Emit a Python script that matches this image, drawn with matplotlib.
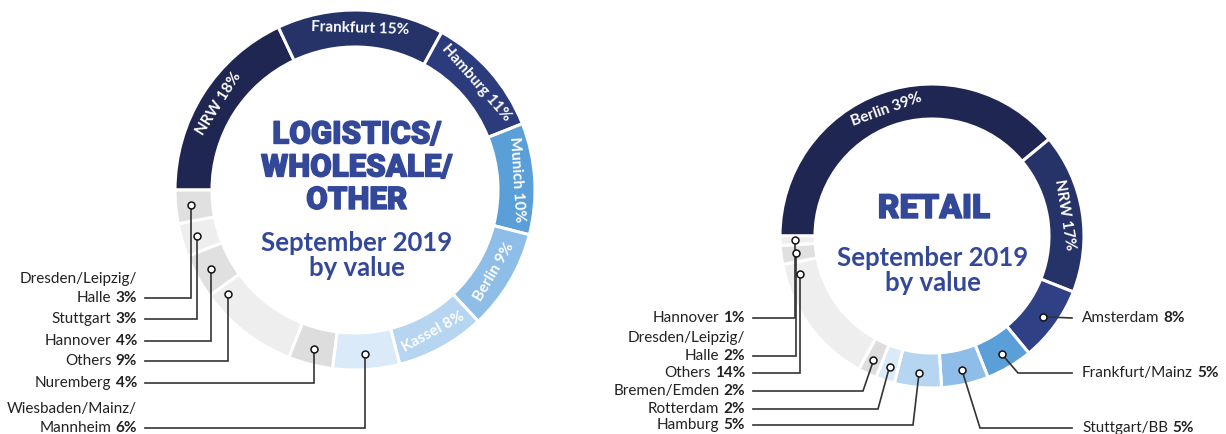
import matplotlib
matplotlib.use("Agg")
import matplotlib.pyplot as plt
import matplotlib.patheffects as pe
import numpy as np
from matplotlib import font_manager as fm

# ---------------- data ----------------
log_names = ["NRW", "Frankfurt", "Hamburg", "Munich", "Berlin", "Kassel",
             "Wiesbaden/Mainz/\nMannheim", "Nuremberg", "Others", "Hannover",
             "Stuttgart", "Dresden/Leipzig/\nHalle"]
log_values = [18, 15, 11, 10, 9, 8, 6, 4, 9, 4, 3, 3]

ret_names = ["Berlin", "NRW", "Amsterdam", "Frankfurt/Mainz", "Stuttgart/BB",
             "Hamburg", "Rotterdam", "Bremen/Emden", "Others",
             "Dresden/Leipzig/\nHalle", "Hannover"]
ret_values = [39, 17, 8, 5, 5, 5, 2, 2, 14, 2, 1]

log_title = ["LOGISTICS/", "WHOLESALE/", "OTHER"]
ret_title = ["RETAIL"]
subtitle = ["September 2019", "by value"]

# ---------------- style ----------------
log_colors = ["#1f2652", "#263368", "#2c3b7b", "#5b9fd9", "#8ebde8", "#b6d5f1",
              "#dbeaf8", "#dcdddc", "#eeeeee", "#dfe0df", "#eeeeee", "#dfe0df"]
ret_colors = ["#1f2652", "#263368", "#2f4084", "#5b9fd9", "#8ebde8", "#b6d5f1",
              "#dbeaf8", "#dcdddc", "#eeeeee", "#dfe0df", "#eeeeee"]
BLUE = "#34489a"
TXT = "#222222"
LINE = "#333333"

names_avail = {f.name for f in fm.fontManager.ttflist}
BASE = "Lato" if "Lato" in names_avail else "DejaVu Sans"
TITLE_FAM = "Roboto" if "Roboto" in names_avail else "DejaVu Sans"
LBL_FS = 11
RING_FS = 11
SUB_FS = 18.5
TITLE_FS = 22.5

W, H = 1226, 434
fig = plt.figure(figsize=(W / 100, H / 100), dpi=100)
ax = fig.add_axes([0, 0, 1, 1])


def Y(y):
    return H - y


def draw_donut(values, colors, center, R, width):
    wedges, _ = ax.pie(values, colors=colors, startangle=180, counterclock=False,
                       radius=R, center=center,
                       wedgeprops=dict(width=width, edgecolor="white", linewidth=2.2))
    return wedges


def angle_at(w, frac=0.5):
    # travel is clockwise from theta2 to theta1
    return w.theta2 - frac * (w.theta2 - w.theta1)


def ring_label(w, text, R, width, frac=0.5):
    a = angle_at(w, frac)
    r = R - width / 2
    cx, cy = w.center
    x = cx + r * np.cos(np.radians(a))
    y = cy + r * np.sin(np.radians(a))
    an = ((a + 180) % 360) - 180
    rot = an - 90 if an > -10 else an + 90
    ax.text(x, y, text, rotation=rot, rotation_mode="anchor", ha="center",
            va="center", color="white", fontsize=RING_FS, family=BASE,
            fontweight="bold")


def marker_pos(w, R, width, frac=0.5):
    a = angle_at(w, frac)
    r = R - width / 2 + 3
    cx, cy = w.center
    return cx + r * np.cos(np.radians(a)), cy + r * np.sin(np.radians(a))


def outer_label(name, pct, xtext, base_y, side, line_gap=19):
    lines = name.split("\n")
    last = lines[-1]
    if side == "left":
        p = ax.text(xtext, base_y, pct, ha="right", va="baseline", fontsize=LBL_FS,
                    family=BASE, fontweight="bold", color=TXT)
        ax.annotate(last, xy=(0, base_y), xycoords=(p, "data"), xytext=(-4, 0),
                    textcoords="offset pixels", ha="right", va="baseline",
                    fontsize=LBL_FS, family=BASE, color=TXT)
        for i, ln in enumerate(reversed(lines[:-1])):
            ax.text(xtext, base_y + (i + 1) * line_gap, ln, ha="right",
                    va="baseline", fontsize=LBL_FS, family=BASE, color=TXT)
    else:
        n = ax.text(xtext, base_y, last, ha="left", va="baseline", fontsize=LBL_FS,
                    family=BASE, color=TXT)
        ax.annotate(pct, xy=(1, base_y), xycoords=(n, "data"), xytext=(4, 0),
                    textcoords="offset pixels", ha="left", va="baseline",
                    fontsize=LBL_FS, family=BASE, fontweight="bold", color=TXT)


def leader(pts):
    xs = [p[0] for p in pts]
    ys = [p[1] for p in pts]
    ax.plot(xs, ys, color=LINE, lw=1.2, solid_joinstyle="miter", zorder=4)
    ax.plot(xs[0], ys[0], "o", ms=5, mfc="white", mec="#111111", mew=1.1, zorder=5)


def title_text(x, y, t, fs):
    ax.text(x, y, t, ha="center", va="baseline", fontsize=fs, family=TITLE_FAM,
            fontweight="black", color=BLUE,
            path_effects=[pe.withStroke(linewidth=1.0, foreground=BLUE)])


# ---------------- left donut ----------------
LC, LR, LW = (355, Y(190)), 180, 37
lw_ = draw_donut(log_values, log_colors, LC, LR, LW)
for i in range(6):
    ring_label(lw_[i], f"{log_names[i]} {log_values[i]}%", LR, LW)

# (index, baseline y (image px), anchor fraction in wedge)
left_layout = [(6, 432, 0.5), (7, 387, 0.5), (8, 365, 0.9),
               (9, 345, 0.5), (10, 323, 0.5), (11, 302, 0.5)]
for idx, by, frac in left_layout:
    mx, my = marker_pos(lw_[idx], LR, LW, frac)
    ly = Y(by - 4)
    leader([(mx, my), (mx, ly), (145, ly)])
    outer_label(log_names[idx], f"{log_values[idx]}%", 137, Y(by), "left")

for t, by in zip(log_title, [143.5, 176.5, 209]):
    title_text(357, Y(by), t, TITLE_FS)
for t, by in zip(subtitle, [251, 276]):
    ax.text(357, Y(by), t, ha="center", va="baseline", fontsize=SUB_FS,
            family=BASE, fontweight="bold", color=BLUE)

# ---------------- right donut ----------------
RC, RR, RW = (932, Y(236)), 152, 35
rw_ = draw_donut(ret_values, ret_colors, RC, RR, RW)
for i in range(2):
    ring_label(rw_[i], f"{ret_names[i]} {ret_values[i]}%", RR, RW)

# (index, baseline y, side, knee x or None, frac)
right_layout = [(2, 322, "right", "h", 0.5), (3, 377, "right", 1018, 0.5),
                (4, 432, "right", 980, 0.5), (5, 429, "left", 913, 0.5),
                (6, 413, "left", 878, 0.5), (7, 395, "left", 863, 0.5),
                (8, 377, "left", None, 0.9), (9, 360, "left", None, 0.5),
                (10, 322, "left", None, 0.5)]
for idx, by, side, knee, frac in right_layout:
    mx, my = marker_pos(rw_[idx], RR, RW, frac)
    ly = Y(by - 4)
    end_x = 1072 if side == "right" else 753
    if knee == "h":
        pts = [(mx, my), (end_x, ly)]
    elif knee is None:
        pts = [(mx, my), (mx, ly), (end_x, ly)]
    else:
        pts = [(mx, my), (knee, ly), (end_x, ly)]
    leader(pts)
    xt = 1082 if side == "right" else 745
    outer_label(ret_names[idx], f"{ret_values[idx]}%", xt, Y(by), side,
                line_gap=18.3)

for t, by in zip(ret_title, [218]):
    title_text(934, Y(by), t, 24)
for t, by in zip(subtitle, [265.5, 291]):
    ax.text(933, Y(by), t, ha="center", va="baseline", fontsize=SUB_FS,
            family=BASE, fontweight="bold", color=BLUE)

ax.set_xlim(0, W)
ax.set_ylim(0, H)
ax.set_aspect("equal")
ax.axis("off")
fig.savefig("out.png", dpi=100, facecolor="white")
